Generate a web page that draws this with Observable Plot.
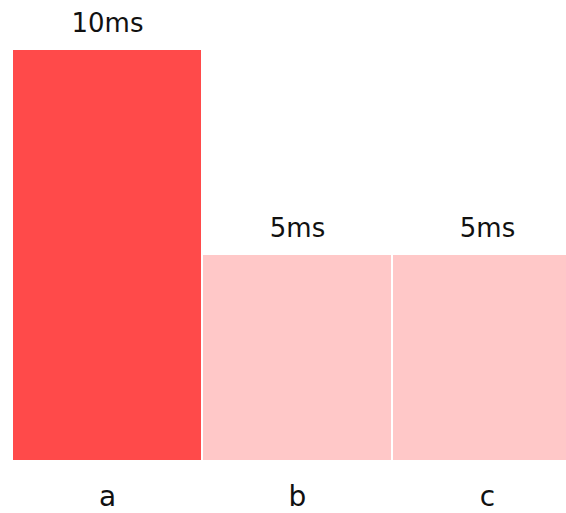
<!DOCTYPE html>
<html>
<head>
<meta charset="utf-8">
<script src="https://cdn.jsdelivr.net/npm/d3@7"></script>
<script src="https://cdn.jsdelivr.net/npm/@observablehq/plot@0.6"></script>
<style>
  html, body { margin: 0; padding: 0; background: #fff; }
</style>
</head>
<body>
<div id="chart"></div>
<script>
const categories = ["a", "b", "c"];
const durations = [10, 5, 5];
const units = "ms";
const barColors = ["#ff4a4a", "#ffc8c8", "#ffc8c8"];

const data = categories.map((c, i) => ({name: c, value: durations[i], color: barColors[i]}));

const chart = Plot.plot({
  width: 566,
  height: 513,
  marginTop: 0,
  marginBottom: 0,
  marginLeft: 0,
  marginRight: 0,
  style: {fontFamily: "DejaVu Sans", background: "#fff", color: "#111"},
  x: {domain: categories, range: [12.5, 580.5], paddingInner: 0.013, paddingOuter: 0, axis: null},
  y: {domain: [0, 10], range: [460, 50], axis: null},
  marks: [
    Plot.barY(data, {x: "name", y: "value", fill: "color"}),
    Plot.text(data, {x: "name", y: "value", text: d => d.value + units, dy: -19, lineAnchor: "bottom", fontSize: 26, fill: "#111"}),
    Plot.text(categories, {x: d => d, y: () => 0, text: d => d, dy: 45, lineAnchor: "bottom", fontSize: 28, fill: "#111"})
  ]
});
document.getElementById("chart").appendChild(chart);
</script>
</body>
</html>
